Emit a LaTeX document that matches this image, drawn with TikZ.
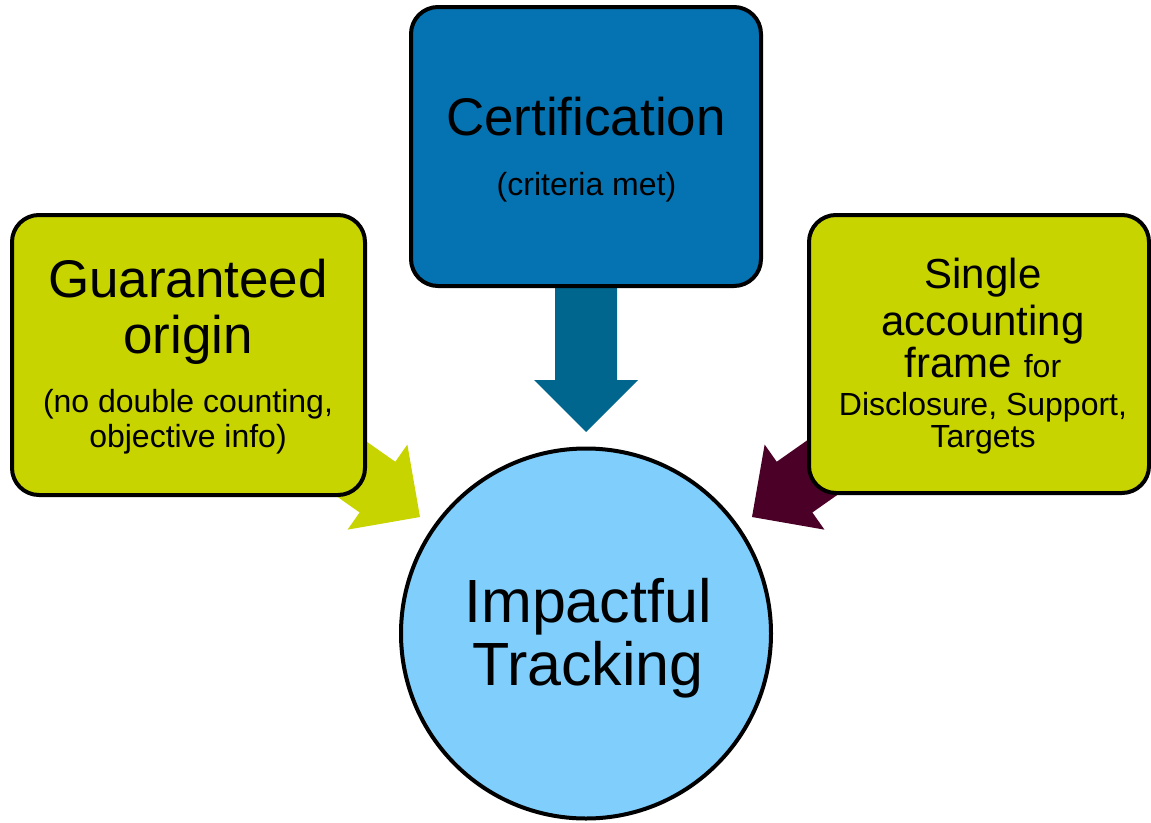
\documentclass[tikz,border=0pt]{standalone}
\usepackage{fontspec}
\setmainfont{Liberation Sans}
\definecolor{certblue}{HTML}{0572B1}
\definecolor{arrowteal}{HTML}{00668E}
\definecolor{limegreen}{HTML}{C8D400}
\definecolor{maroondark}{HTML}{4A0027}
\definecolor{circleblue}{HTML}{80CEFB}
\newcommand\myblockarrow[3]{%
  \fill[#3, shift={(#1)}, rotate=#2] (0,0) -- (-52,52) -- (-52,31) -- (-150,31)
    -- (-150,-31) -- (-52,-31) -- (-52,-52) -- cycle;}
\tikzset{
  roundbox/.style={draw=black, line width=4pt, rounded corners=27pt, inner sep=0pt},
  bigtxt/.style={anchor=base, inner sep=0pt, font=\fontsize{53}{53}\selectfont},
  medtxt/.style={anchor=base, inner sep=0pt, font=\fontsize{42}{42}\selectfont},
  smalltxt/.style={anchor=base, inner sep=0pt, font=\fontsize{32}{32}\selectfont},
  hugetxt/.style={anchor=base, inner sep=0pt, font=\fontsize{61}{61}\selectfont},
}
\begin{document}
\begin{tikzpicture}[x=1pt,y=1pt]
\useasboundingbox (0,0) rectangle (1151,-822);
% arrow tips
\coordinate (ltip) at (420,-517);
\coordinate (rtip) at (752,-517);
\coordinate (dtip) at (586,-432);
\myblockarrow{ltip}{-35.1}{limegreen}
\myblockarrow{rtip}{-144.9}{maroondark}
\myblockarrow{dtip}{-90}{arrowteal}
% boxes
\node[roundbox, fill=certblue, minimum width=350pt, minimum height=279pt] (cert) at (586,-146.5) {};
\node[roundbox, fill=limegreen, minimum width=353pt, minimum height=280pt] (orig) at (188.5,-355) {};
\node[roundbox, fill=limegreen, minimum width=340pt, minimum height=278pt] (frame) at (979,-354) {};
\node[draw=black, line width=4pt, fill=circleblue, circle, minimum size=370pt, inner sep=0pt] (track) at (586,-633.5) {};
% texts
\node[bigtxt] (c1) at (586,-135) {Certification};
\node[smalltxt] (c2) at (586.5,-195) {(criteria met)};
\node[bigtxt] (o1) at (188,-297) {Guaranteed};
\node[bigtxt] (o2) at (188,-353) {origin};
\node[smalltxt] (o3) at (188,-412) {(no double counting,};
\node[smalltxt] (o4) at (188,-447) {objective info)};
\node[medtxt] (f1) at (983,-288) {Single};
\node[medtxt] (f2) at (983,-335) {accounting};
\node[medtxt] (f3) at (983,-377) {frame {\fontsize{32}{32}\selectfont for}};
\node[smalltxt] (f4) at (983,-415) {Disclosure, Support,};
\node[smalltxt] (f5) at (983,-447) {Targets};
\node[hugetxt] (t1) at (588,-622) {Impactful};
\node[hugetxt] (t2) at (588,-685) {Tracking};
\end{tikzpicture}
\end{document}
